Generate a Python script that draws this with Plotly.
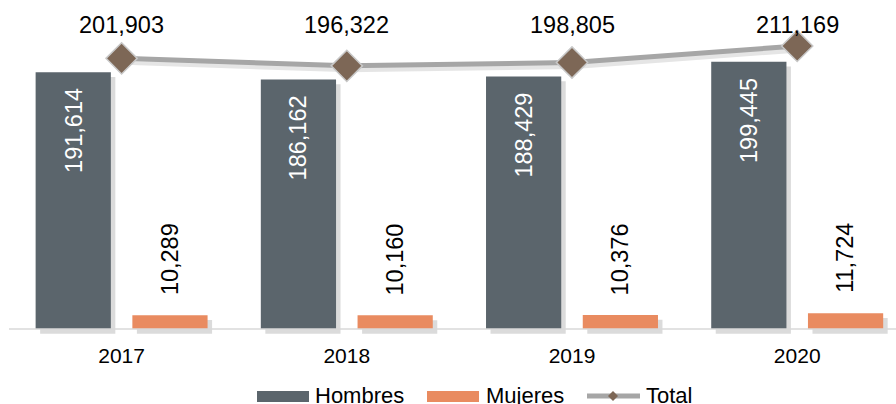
import plotly.graph_objects as go

years = ["2017", "2018", "2019", "2020"]
hombres = [191614, 186162, 188429, 199445]
mujeres = [10289, 10160, 10376, 11724]
total = [201903, 196322, 198805, 211169]

C_H = "#5b656c"
C_M = "#e98b60"
C_LINE = "#a6a6a6"
C_MK = "#7d6756"
FONT = "Liberation Sans, Arial, sans-serif"

W, H = 896, 404
ML, MR, MT, MB = 9, 0, 10, 63
PW = W - ML - MR
PH = H - MT - MB
Y0, Y1 = -9000, 238000

xi = list(range(len(years)))
off = 0.2148
bw = 0.334
dx_sh = 0.02
dy_sh = 3600


def px_x(p):
    return (p - ML) / PW


def px_y(p):
    return (H - MB - p) / PH


fig = go.Figure()

# shadows
fig.add_trace(go.Bar(x=[i - off + dx_sh for i in xi], y=[v for v in hombres], base=[-dy_sh] * 4,
                     width=bw, marker=dict(color="rgba(0,0,0,0.14)", line=dict(width=0)),
                     hoverinfo="skip", showlegend=False))
fig.add_trace(go.Bar(x=[i + off + dx_sh for i in xi], y=[v for v in mujeres], base=[-dy_sh] * 4,
                     width=bw, marker=dict(color="rgba(0,0,0,0.14)", line=dict(width=0)),
                     hoverinfo="skip", showlegend=False))
# bars
fig.add_trace(go.Bar(x=[i - off for i in xi], y=hombres, width=bw, name="Hombres",
                     marker=dict(color=C_H, line=dict(width=0)), showlegend=False))
fig.add_trace(go.Bar(x=[i + off for i in xi], y=mujeres, width=bw, name="Mujeres",
                     marker=dict(color=C_M, line=dict(width=0)), showlegend=False))
# line shadow
fig.add_trace(go.Scatter(x=[i + 0.012 for i in xi], y=[v - 2600 for v in total], mode="lines",
                         line=dict(color="rgba(0,0,0,0.10)", width=6), hoverinfo="skip", showlegend=False))
fig.add_trace(go.Scatter(x=xi, y=total, mode="lines+markers", name="Total",
                         line=dict(color=C_LINE, width=5),
                         marker=dict(symbol="diamond", size=24, color=C_MK, line=dict(color="#c8c8c8", width=1.5)),
                         showlegend=False))

anns = []
for i in xi:
    anns.append(dict(x=i - off, y=hombres[i], xref="x", yref="y", text=f"{hombres[i]:,}", textangle=-90,
                     showarrow=False, yanchor="top", yshift=-14, font=dict(color="white", size=23.5, family=FONT)))
    anns.append(dict(x=i + off, y=mujeres[i], xref="x", yref="y", text=f"{mujeres[i]:,}", textangle=-90,
                     showarrow=False, yanchor="bottom", yshift=18, font=dict(color="black", size=23.5, family=FONT)))
    anns.append(dict(x=i, y=px_y(25), xref="x", yref="paper", text=f"{total[i]:,}",
                     showarrow=False, yanchor="middle", font=dict(color="black", size=23.5, family=FONT)))

shapes = [dict(type="line", xref="paper", yref="y", x0=0, x1=1, y0=0, y1=0,
               line=dict(color="#d9d9d9", width=1.5))]
# custom legend
ly = 395
shapes.append(dict(type="rect", xref="paper", yref="paper", x0=px_x(257), x1=px_x(309),
                   y0=px_y(402), y1=px_y(391), fillcolor=C_H, line=dict(width=0)))
shapes.append(dict(type="rect", xref="paper", yref="paper", x0=px_x(427), x1=px_x(479),
                   y0=px_y(402), y1=px_y(391), fillcolor=C_M, line=dict(width=0)))
shapes.append(dict(type="line", xref="paper", yref="paper", x0=px_x(587), x1=px_x(640),
                   y0=px_y(396), y1=px_y(396), line=dict(color=C_LINE, width=5)))
shapes.append(dict(type="path", xref="paper", yref="paper",
                   path="M {a},{b} L {c},{d} L {a},{e} L {f},{d} Z".format(
                       a=px_x(613), b=px_y(391), c=px_x(618), d=px_y(396), e=px_y(401), f=px_x(608)),
                   fillcolor=C_MK, line=dict(width=0)))
for txt, x in [("Hombres", 313), ("Mujeres", 484), ("Total", 644)]:
    anns.append(dict(x=px_x(x), y=px_y(ly), xref="paper", yref="paper", text=txt, showarrow=False,
                     xanchor="left", yanchor="middle", font=dict(color="black", size=22, family=FONT)))

fig.update_layout(
    width=W, height=H, margin=dict(l=ML, r=MR, t=MT, b=MB),
    paper_bgcolor="white", plot_bgcolor="white",
    barmode="overlay", showlegend=False,
    annotations=anns, shapes=shapes,
    font=dict(family=FONT, color="black"),
    xaxis=dict(range=[-0.5, -0.5 + PW / 225.2], tickvals=xi, ticktext=years, showgrid=False,
               zeroline=False, showline=False, ticks="", tickfont=dict(size=21, family=FONT)),
    yaxis=dict(range=[Y0, Y1], visible=False, showgrid=False, zeroline=False),
)
fig.write_html("out.html", config={"displayModeBar": False},
               post_script="document.body.style.margin='0';document.body.style.overflow='hidden';")
